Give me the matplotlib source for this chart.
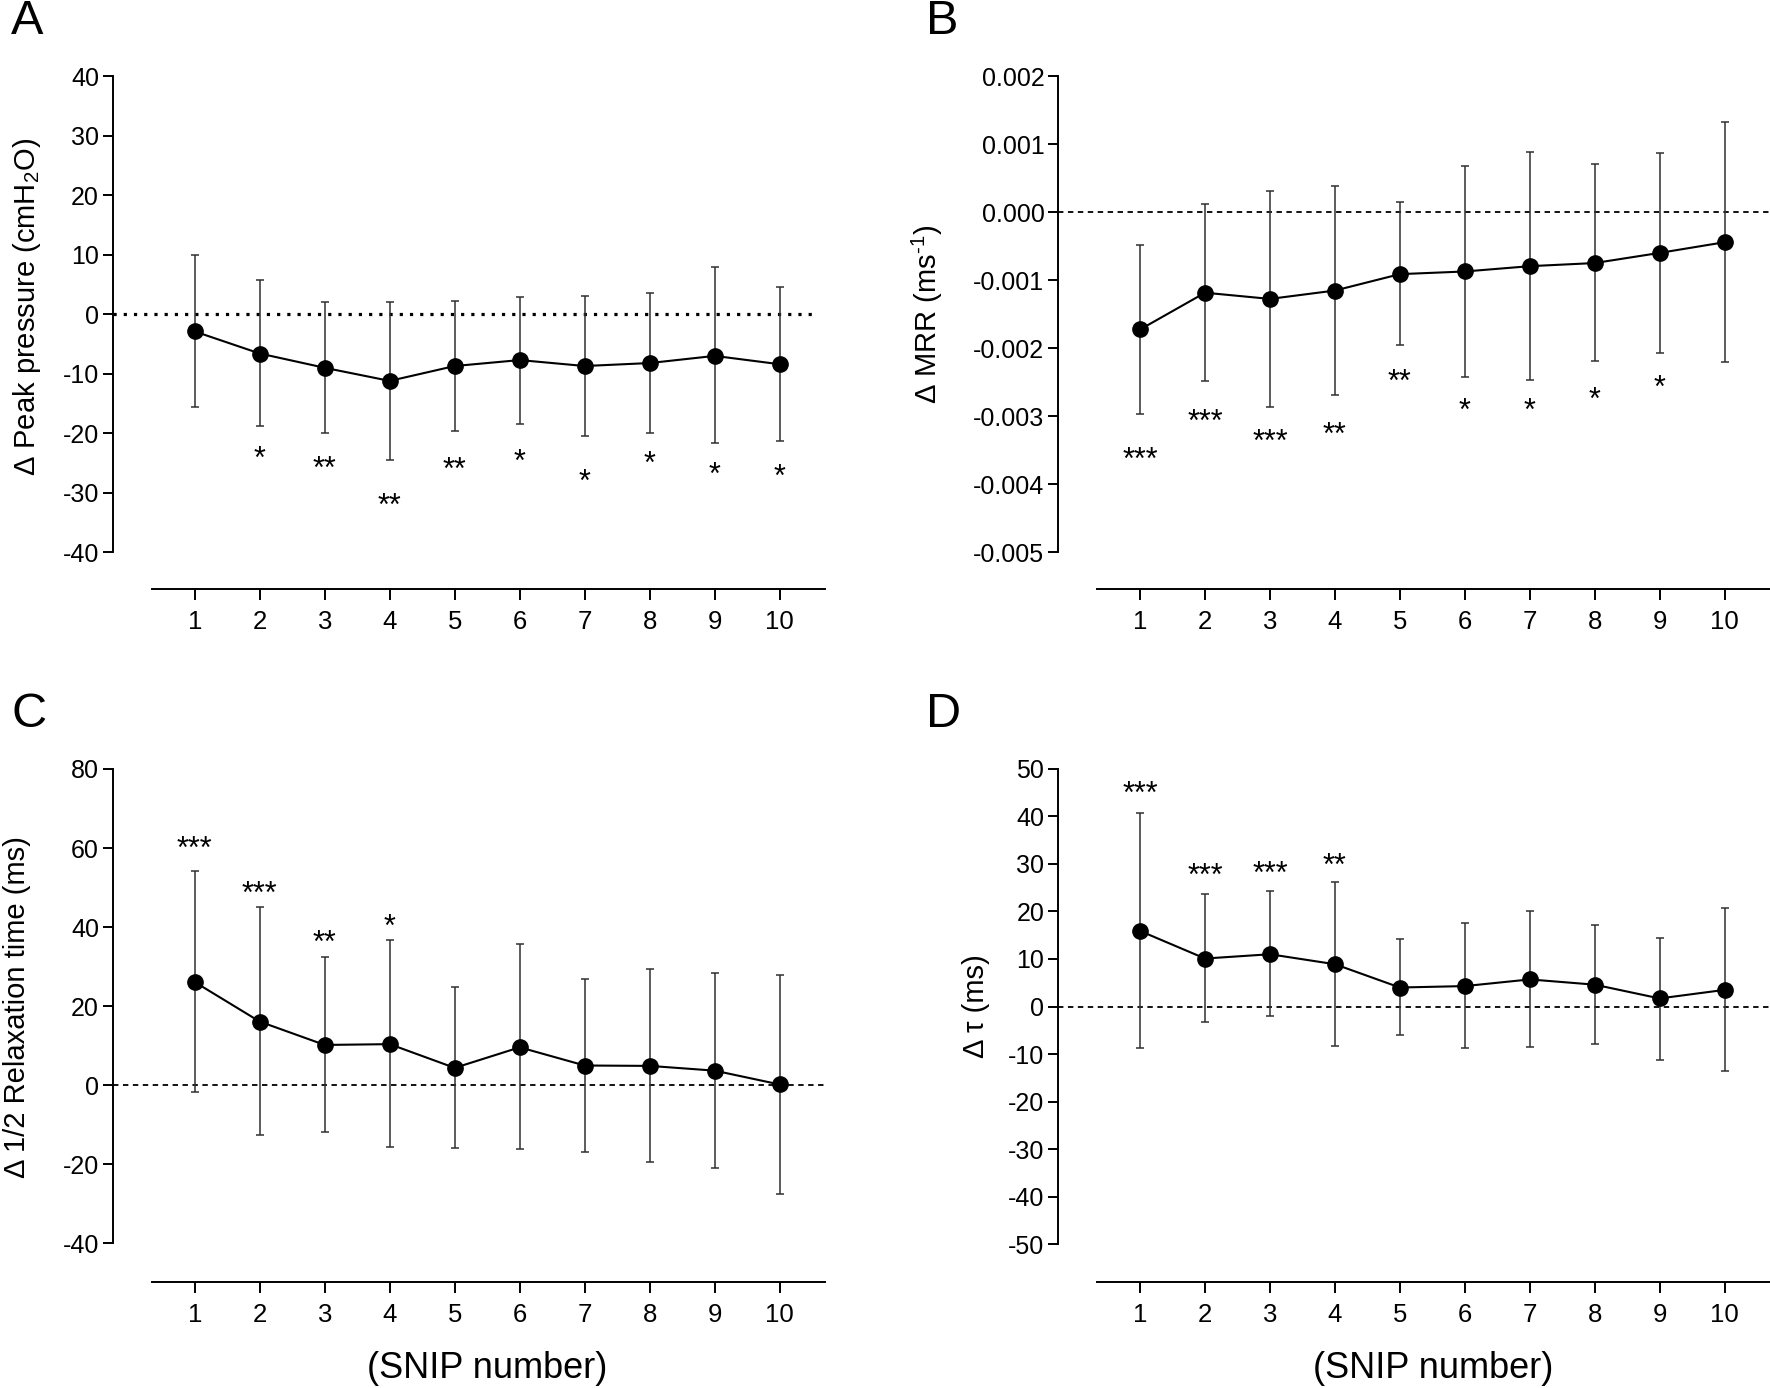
import matplotlib
matplotlib.use("Agg")
import matplotlib.pyplot as plt

plt.rcParams['font.family'] = ['Liberation Sans', 'DejaVu Sans']
plt.rcParams['axes.unicode_minus'] = False
plt.rcParams['mathtext.fontset'] = 'custom'
plt.rcParams['mathtext.rm'] = 'Liberation Sans'
plt.rcParams['mathtext.it'] = 'Liberation Sans:italic'
plt.rcParams['mathtext.bf'] = 'Liberation Sans:bold'

snip = [1, 2, 3, 4, 5, 6, 7, 8, 9, 10]
xtick_labels = ['1', '2', '3', '4', '5', '6', '7', '8', '9', '10']

# Panel A: delta peak pressure
a_mean = [-2.9, -6.6, -9.0, -11.2, -8.7, -7.7, -8.7, -8.2, -7.0, -8.4]
a_upper = [9.9, 5.8, 2.0, 2.0, 2.2, 2.9, 3.0, 3.6, 7.9, 4.6]
a_lower = [-15.5, -18.8, -19.9, -24.5, -19.6, -18.4, -20.4, -19.9, -21.7, -21.3]
a_stars = ['', '*', '**', '**', '**', '*', '*', '*', '*', '*']
a_star_y = [0, -22.8, -24.5, -30.8, -24.7, -23.3, -26.7, -23.6, -25.6, -25.8]
a_yticks = [-40, -30, -20, -10, 0, 10, 20, 30, 40]
a_yticklabels = ['-40', '-30', '-20', '-10', '0', '10', '20', '30', '40']

# Panel B: delta MRR
b_mean = [-0.001724, -0.001184, -0.001275, -0.001152, -0.000911, -0.000872, -0.000794, -0.000748, -0.000599, -0.000442]
b_upper = [-0.00048, 0.000117, 0.00031, 0.000384, 0.000156, 0.000677, 0.000885, 0.000703, 0.000872, 0.001327]
b_lower = [-0.00296, -0.00248, -0.00286, -0.00268, -0.001958, -0.00242, -0.00246, -0.002186, -0.002075, -0.0022]
b_stars = ['***', '***', '***', '**', '**', '*', '*', '*', '*', '']
b_star_y = [-0.00351, -0.00295, -0.00325, -0.00315, -0.00236, -0.00280, -0.00279, -0.00263, -0.00245, 0]
b_yticks = [-0.005, -0.004, -0.003, -0.002, -0.001, 0.0, 0.001, 0.002]
b_yticklabels = ['-0.005', '-0.004', '-0.003', '-0.002', '-0.001', '0.000', '0.001', '0.002']

# Panel C: delta 1/2 relaxation time
c_mean = [26.1, 16.1, 10.2, 10.4, 4.4, 9.6, 5.0, 4.9, 3.7, 0.2]
c_upper = [54.1, 45.0, 32.5, 36.8, 24.8, 35.7, 27.0, 29.4, 28.3, 27.9]
c_lower = [-1.7, -12.5, -11.9, -15.6, -15.9, -16.1, -16.8, -19.4, -21.0, -27.4]
c_stars = ['***', '***', '**', '*', '', '', '', '', '', '']
c_star_y = [62.1, 50.7, 38.1, 42.2, 0, 0, 0, 0, 0, 0]
c_yticks = [-40, -20, 0, 20, 40, 60, 80]
c_yticklabels = ['-40', '-20', '0', '20', '40', '60', '80']

# Panel D: delta tau
d_mean = [15.9, 10.1, 11.0, 8.9, 4.0, 4.3, 5.7, 4.6, 1.7, 3.5]
d_upper = [40.8, 23.6, 24.3, 26.3, 14.2, 17.5, 20.0, 17.1, 14.5, 20.8]
d_lower = [-8.75, -3.2, -2.1, -8.4, -6.0, -8.7, -8.6, -7.9, -11.2, -13.5]
d_stars = ['***', '***', '***', '**', '', '', '', '', '', '']
d_star_y = [46.5, 29.4, 29.7, 31.5, 0, 0, 0, 0, 0, 0]
d_yticks = [-50, -40, -30, -20, -10, 0, 10, 20, 30, 40, 50]
d_yticklabels = ['-50', '-40', '-30', '-20', '-10', '0', '10', '20', '30', '40', '50']

W, H = 1568.0, 1230.0
fig = plt.figure(figsize=(17.7, 13.88), dpi=100)

TICK_FS = 18
XTICK_FS = 18.5
STAR_FS = 22
YLAB_FS = 21

panels = [
    dict(letter='A', pos=(100, 67.4, 731, 522), data=(a_mean, a_upper, a_lower, a_stars, a_star_y),
         yt=(a_yticks, a_yticklabels), ybot=-46.16, zero=(0, (1, 2.2)), zero_lw=2.3, zero_xmax=0.985,
         ylabel='Δ Peak pressure (cmH$_2$O)', ylab_x=24, ylab_y=272, lx=24, ly=19),
    dict(letter='B', pos=(937.5, 67.4, 1568, 522), data=(b_mean, b_upper, b_lower, b_stars, b_star_y),
         yt=(b_yticks, b_yticklabels), ybot=-0.005539, zero=(0, (3, 2.5)), zero_lw=1.3, zero_xmax=1.0,
         ylabel='Δ MRR (ms$^{\\text{-}1}$)', ylab_x=822, ylab_y=278, lx=835, ly=19),
    dict(letter='C', pos=(100, 681.4, 731, 1136), data=(c_mean, c_upper, c_lower, c_stars, c_star_y),
         yt=(c_yticks, c_yticklabels), ybot=-49.73, zero=(0, (3, 2.5)), zero_lw=1.3, zero_xmax=1.0,
         ylabel='Δ 1/2 Relaxation time (ms)', ylab_x=15, ylab_y=892, lx=26, ly=633),
    dict(letter='D', pos=(937.5, 681.4, 1568, 1136), data=(d_mean, d_upper, d_lower, d_stars, d_star_y),
         yt=(d_yticks, d_yticklabels), ybot=-57.96, zero=(0, (3, 2.5)), zero_lw=1.3, zero_xmax=1.0,
         ylabel='Δ τ (ms)', ylab_x=865, ylab_y=892, lx=836, ly=633),
]

for p in panels:
    x0, y0, x1, y1 = p['pos']
    ax = fig.add_axes([x0 / W, 1 - y1 / H, (x1 - x0) / W, (y1 - y0) / H])
    mean, upper, lower, stars, star_y = p['data']
    yt, ytl = p['yt']
    ax.set_xlim(-0.26, 10.7)
    ax.set_ylim(p['ybot'], yt[-1])
    ax.axhline(0, xmin=0, xmax=p['zero_xmax'], color='black', lw=p['zero_lw'],
               linestyle=p['zero'], zorder=1)
    yerr = [[m - lo for m, lo in zip(mean, lower)], [u - m for m, u in zip(mean, upper)]]
    ax.errorbar(snip, mean, yerr=yerr, fmt='none', ecolor='#303030', elinewidth=1.1,
                capsize=3, capthick=1.1, zorder=2, clip_on=False)
    ax.plot(snip, mean, color='black', lw=1.5, marker='o', markersize=11,
            markerfacecolor='black', markeredgecolor='black', zorder=3, clip_on=False)
    for xi, s, sy in zip(snip, stars, star_y):
        if s:
            ax.annotate(s, (xi, sy), xytext=(0, -0.58 * STAR_FS), textcoords='offset points',
                        ha='center', va='baseline', fontsize=STAR_FS)
    for side in ('top', 'right'):
        ax.spines[side].set_visible(False)
    ax.spines['left'].set_bounds(yt[0], yt[-1])
    ax.spines['bottom'].set_bounds(0.34, 10.7)
    for side in ('left', 'bottom'):
        ax.spines[side].set_linewidth(1.4)
    ax.set_yticks(yt)
    ax.set_yticklabels(ytl)
    ax.set_xticks(snip)
    ax.set_xticklabels(xtick_labels)
    ax.tick_params(axis='y', direction='out', length=7, width=1.4, labelsize=TICK_FS, pad=3)
    ax.tick_params(axis='x', direction='out', length=8, width=1.4, labelsize=XTICK_FS, pad=7)
    ax.patch.set_alpha(0)
    fig.text(p['ylab_x'] / W, 1 - p['ylab_y'] / H, p['ylabel'], rotation=90,
             ha='center', va='center', fontsize=YLAB_FS)
    fig.text(p['lx'] / W, 1 - p['ly'] / H, p['letter'], ha='center', va='center', fontsize=35)

fig.text(432 / W, 1 - 1213 / H, '(SNIP number)', ha='center', va='center', fontsize=26)
fig.text(1270 / W, 1 - 1213 / H, '(SNIP number)', ha='center', va='center', fontsize=26)

fig.savefig('out.png', dpi=100, facecolor='white')
